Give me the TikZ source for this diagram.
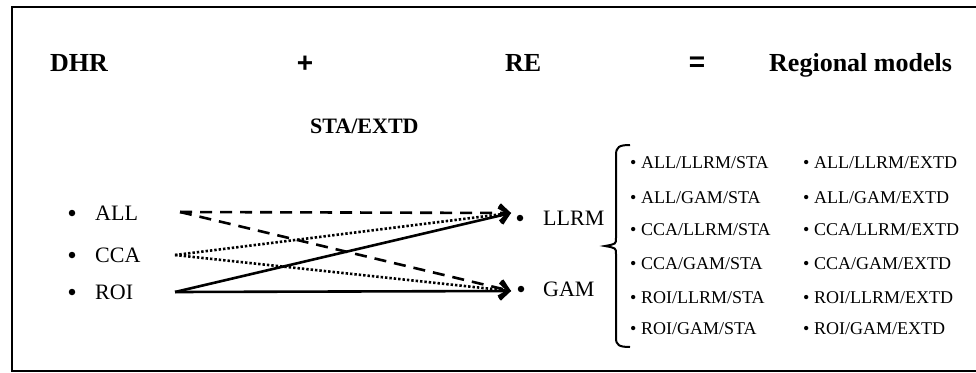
\documentclass[tikz,border=0pt]{standalone}
\usepackage{fontspec}
\setmainfont{Liberation Serif}
\newfontfamily\opsans{Liberation Sans}
\usetikzlibrary{arrows.meta}
\tikzset{
  hdr/.style={anchor=base west, inner sep=0pt, font=\fontsize{26}{30}\selectfont\bfseries},
  op/.style={anchor=center, inner sep=0pt, font=\fontsize{28}{32}\selectfont\opsans\bfseries},
  sub/.style={anchor=base west, inner sep=0pt, font=\fontsize{22}{26}\selectfont\bfseries},
  lbl/.style={anchor=base west, inner sep=0pt, font=\fontsize{22}{26}\selectfont},
  item/.style={anchor=base west, inner sep=0pt, font=\fontsize{18}{22}\selectfont},
  bul/.style={circle, fill=black, inner sep=0pt, minimum size=6.5pt},
  conn/.style={line width=2.6pt, -{Straight Barb[length=9pt,width=17pt,line width=2.8pt]}},
  dsh/.style={conn, dash pattern=on 12pt off 8pt},
  dtt/.style={conn, dash pattern=on 2.4pt off 2pt},
  frame/.style={line width=2pt}
}
\begin{document}
\begin{tikzpicture}[x=1pt,y=-1pt]
\useasboundingbox (0,0) rectangle (976,372);
\draw[frame] (985,7) -- (12,7) -- (12,371) -- (985,371);
% headers
\node[hdr] (dhr) at (50,71) {DHR};
\node[op] (plus) at (305,64) {+};
\node[hdr] (re) at (505,71) {RE};
\node[op] (eq) at (697,64) {=};
\node[hdr] (regm) at (769,71) {Regional models};
\node[sub] (staextd) at (310,133) {STA/EXTD};
% left list
\node[bul] (b1) at (72,213) {};
\node[lbl] (all) at (95,220) {ALL};
\node[bul] (b2) at (72,255) {};
\node[lbl] (cca) at (95,262) {CCA};
\node[bul] (b3) at (72,292) {};
\node[lbl] (roi) at (95,299) {ROI};
% middle list
\node[bul] (b4) at (520,218) {};
\node[lbl] (llrm) at (543,225) {LLRM};
\node[bul] (b5) at (521,289) {};
\node[lbl] (gam) at (543,296) {GAM};
% connector ends
\coordinate (aS) at (180,212);
\coordinate (cS) at (175,255);
\coordinate (rS) at (175,292);
\coordinate (lT) at (511,213);
\coordinate (gT) at (511,291);
\draw[dsh] (aS) -- (lT);
\draw[dsh] (aS) -- (gT);
\draw[dtt] (cS) -- (lT);
\draw[dtt] (cS) -- (gT);
\draw[conn] (rS) -- (lT);
\draw[conn] (rS) -- (gT);
% brace
\draw[line width=2pt] (630,145) .. controls (619,145) and (616,147) .. (616,155)
  -- (616,238) .. controls (616,244) .. (605,246) .. controls (616,248) .. (616,254)
  -- (616,338) .. controls (616,345) and (619,347) .. (630,347);
% right list
\node[item] (r1a) at (630,168) {\textbullet\ ALL/LLRM/STA};
\node[item] (r2a) at (630,203) {\textbullet\ ALL/GAM/STA};
\node[item] (r3a) at (630,235) {\textbullet\ CCA/LLRM/STA};
\node[item] (r4a) at (630,269) {\textbullet\ CCA/GAM/STA};
\node[item] (r5a) at (630,303) {\textbullet\ ROI/LLRM/STA};
\node[item] (r6a) at (630,334) {\textbullet\ ROI/GAM/STA};
\node[item] (r1b) at (803,168) {\textbullet\ ALL/LLRM/EXTD};
\node[item] (r2b) at (803,203) {\textbullet\ ALL/GAM/EXTD};
\node[item] (r3b) at (803,235) {\textbullet\ CCA/LLRM/EXTD};
\node[item] (r4b) at (803,269) {\textbullet\ CCA/GAM/EXTD};
\node[item] (r5b) at (803,303) {\textbullet\ ROI/LLRM/EXTD};
\node[item] (r6b) at (803,334) {\textbullet\ ROI/GAM/EXTD};
\end{tikzpicture}
\end{document}
